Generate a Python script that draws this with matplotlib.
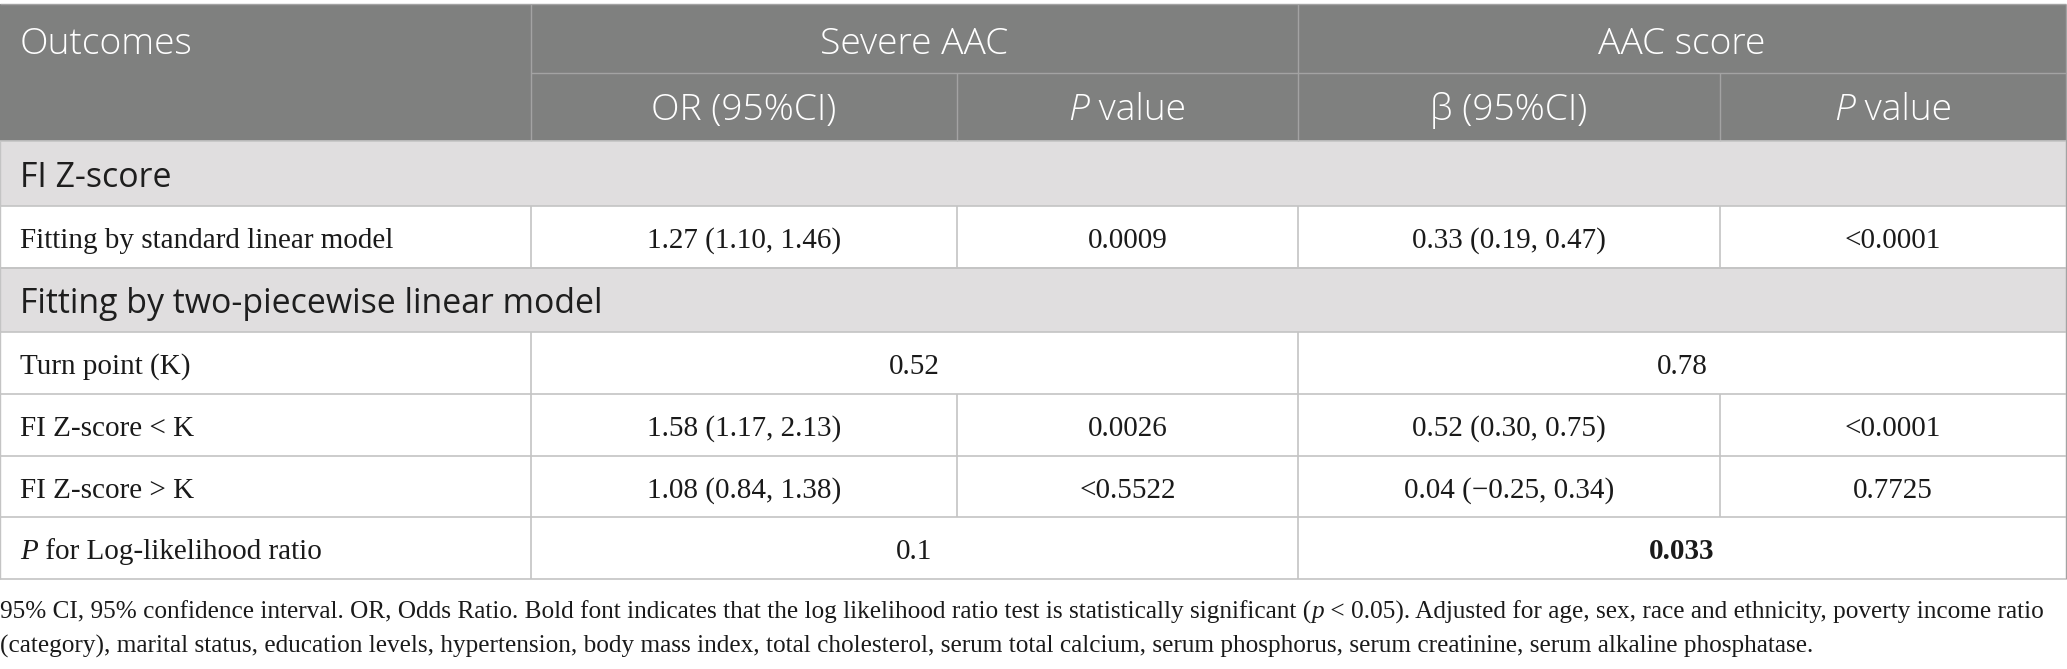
import matplotlib
matplotlib.use("Agg")
import matplotlib.pyplot as plt
from matplotlib.patches import Rectangle

# ---------------- data ----------------
group_headers = ["Severe AAC", "AAC score"]
sub_headers = [[("OR (95%CI)", "n")], [("P", "i"), (" value", "n")],
               [("β (95%CI)", "n")], [("P", "i"), (" value", "n")]]
section_titles = ["FI Z-score", "Fitting by two-piecewise linear model"]
row_labels = ["Fitting by standard linear model", "Turn point (K)",
              "FI Z-score < K", "FI Z-score > K", "P for Log-likelihood ratio"]
or_ci = ["1.27 (1.10, 1.46)", "0.52", "1.58 (1.17, 2.13)", "1.08 (0.84, 1.38)", "0.1"]
or_p = ["0.0009", None, "0.0026", "<0.5522", None]
beta_ci = ["0.33 (0.19, 0.47)", "0.78", "0.52 (0.30, 0.75)", "0.04 (\u22120.25, 0.34)", "0.033"]
beta_p = ["<0.0001", None, "<0.0001", "0.7725", None]
footnote = ["95% CI, 95% confidence interval. OR, Odds Ratio. Bold font indicates that the log likelihood ratio test is statistically significant (",
            "p", " < 0.05). Adjusted for age, sex, race and ethnicity, poverty income ratio"]
footnote2 = "(category), marital status, education levels, hypertension, body mass index, total cholesterol, serum total calcium, serum phosphorus, serum creatinine, serum alkaline phosphatase."

# ---------------- layout ----------------
W, H = 2067, 669
col_x = [0, 531, 957, 1298, 1720, 2066]
hdr_y = [4, 73, 141]
sec1_y = (141, 206)
row_y = [(206, 268), (332, 394), (394, 456), (456, 517), (517, 579)]
sec2_y = (268, 332)

HDR_BG = "#7f807f"
SEC_BG = "#e0dedf"
HDR_LINE = "#a3a3a3"
BODY_LINE = "#c4c4c4"
TXT = "#1a1a1a"

SANS = "Open Sans"
SERIF = "Liberation Serif"
HS = 26.8  # header font size
SS = 24.4  # section title size
BS = 21.0  # body font size
FS = 18.2  # footnote size
HW = 300   # header weight

def cap(size, ratio):
    return size * 100 / 72 * ratio

fig = plt.figure(figsize=(W / 100, H / 100), dpi=100)
ax = fig.add_axes([0, 0, 1, 1])
ax.set_xlim(0, W)
ax.set_ylim(H, 0)
ax.axis("off")

# backgrounds
ax.add_patch(Rectangle((0, hdr_y[0]), col_x[-1], hdr_y[2] - hdr_y[0], color=HDR_BG, lw=0))
for (a, b) in [sec1_y, sec2_y]:
    ax.add_patch(Rectangle((0, a), col_x[-1], b - a, color=SEC_BG, lw=0))

def hline(y, x0, x1, c, lw=1.0):
    ax.plot([x0, x1], [y, y], color=c, lw=lw, solid_capstyle="butt")

def vline(x, y0, y1, c, lw=1.0):
    ax.plot([x, x], [y0, y1], color=c, lw=lw, solid_capstyle="butt")

# header lines
hline(hdr_y[0], 0, col_x[-1], HDR_LINE)
hline(hdr_y[1], col_x[1], col_x[-1], HDR_LINE)
vline(col_x[1], hdr_y[0], hdr_y[2], HDR_LINE)
vline(col_x[3], hdr_y[0], hdr_y[2], HDR_LINE)
vline(col_x[2], hdr_y[1], hdr_y[2], HDR_LINE)
vline(col_x[4], hdr_y[1], hdr_y[2], HDR_LINE)
vline(col_x[-1], hdr_y[0], row_y[-1][1], HDR_LINE)

# body horizontal lines
for y in [hdr_y[2], sec1_y[1], sec2_y[0], sec2_y[1]] + [r[1] for r in row_y]:
    hline(y, 0, col_x[-1], BODY_LINE, 1.2)
vline(0, sec1_y[0], row_y[-1][1], BODY_LINE)

fig.canvas.draw()
renderer = fig.canvas.get_renderer()
inv = ax.transData.inverted()

def seg_text(x, y, segs, family, size, color, ha="center", va="baseline", weight="normal"):
    """Draw text segments with individual styles in a row."""
    arts = []
    for s, st in segs:
        t = ax.text(0, y, s, family=family, size=size, va=va, ha="left",
                    style="italic" if st == "i" else "normal", weight=weight, color=color)
        arts.append(t)
    widths = []
    for t in arts:
        bb = t.get_window_extent(renderer)
        p0 = inv.transform((bb.x0, bb.y0))
        p1 = inv.transform((bb.x1, bb.y1))
        widths.append(p1[0] - p0[0])
    total = sum(widths)
    start = x - total / 2 if ha == "center" else x
    for t, w in zip(arts, widths):
        t.set_x(start)
        start += w

# header texts
hb1 = 40.5 + cap(HS, 0.714) / 2
hb2 = 107.0 + cap(HS, 0.714) / 2
ax.text(20, hb1, "Outcomes", family=SANS, size=HS, color="white", va="baseline", ha="left", weight=HW)
for i, g in enumerate(group_headers):
    cx = (col_x[1 + 2 * i] + col_x[3 + 2 * i]) / 2
    ax.text(cx, hb1, g, family=SANS, size=HS, color="white", va="baseline", ha="center", weight=HW)
for j, segs in enumerate(sub_headers):
    cx = (col_x[1 + j] + col_x[2 + j]) / 2
    seg_text(cx, hb2, segs, SANS, HS, "white", weight=HW)

# section titles
for title, (a, b) in zip(section_titles, [sec1_y, sec2_y]):
    ax.text(20, (a + b) / 2 + 1 + cap(SS, 0.714) / 2, title, family=SANS, size=SS, color="#1e1e1e",
            va="baseline", ha="left")

# body rows
for i, (a, b) in enumerate(row_y):
    cy = (a + b) / 2 + 1.5 + cap(BS, 0.662) / 2
    lab = row_labels[i]
    if lab.startswith("P "):
        seg_text(20, cy, [("P", "i"), (lab[1:], "n")], SERIF, BS, TXT, ha="left")
    else:
        ax.text(20, cy, lab, family=SERIF, size=BS, color=TXT, va="baseline", ha="left")
    vline(col_x[1], a, b, BODY_LINE, 1.2)
    merged = or_p[i] is None
    if merged:
        ax.text((col_x[1] + col_x[3]) / 2, cy, or_ci[i], family=SERIF, size=BS, color=TXT,
                va="baseline", ha="center")
        bold = "bold" if row_labels[i].startswith("P ") else "normal"
        ax.text((col_x[3] + col_x[5]) / 2, cy, beta_ci[i], family=SERIF, size=BS, color=TXT,
                va="baseline", ha="center", weight=bold)
        vline(col_x[3], a, b, BODY_LINE, 1.2)
    else:
        for j, v in enumerate([or_ci[i], or_p[i], beta_ci[i], beta_p[i]]):
            ax.text((col_x[1 + j] + col_x[2 + j]) / 2, cy, v, family=SERIF, size=BS, color=TXT,
                    va="baseline", ha="center")
        for xx in col_x[2:5]:
            vline(xx, a, b, BODY_LINE, 1.2)

# footnote
fb1 = 610 + cap(FS, 0.662) / 2
fb2 = 644 + cap(FS, 0.662) / 2
seg_text(0, fb1, [(footnote[0], "n"), (footnote[1], "i"), (footnote[2], "n")], SERIF, FS, TXT, ha="left")
ax.text(0, fb2, footnote2, family=SERIF, size=FS, color=TXT, va="baseline", ha="left")

fig.savefig("out.png", dpi=100)
